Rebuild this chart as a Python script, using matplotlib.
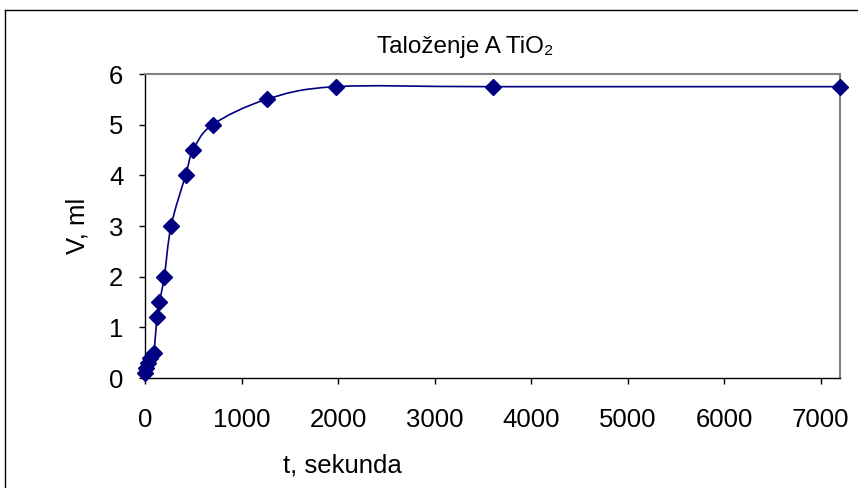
import numpy as np
import matplotlib.pyplot as plt
from matplotlib.path import Path
from matplotlib.patches import PathPatch
from matplotlib.lines import Line2D

plt.rcParams["font.family"] = ["Liberation Sans", "DejaVu Sans"]

t_sec = [5, 15, 30, 50, 90, 125, 150, 200, 270, 420, 500, 700, 1260, 1980, 3600, 7200]
v_ml = [0.1, 0.2, 0.3, 0.4, 0.5, 1.2, 1.5, 2.0, 3.0, 4.0, 4.5, 5.0, 5.5, 5.75, 5.75, 5.75]

x_ticks = [0, 1000, 2000, 3000, 4000, 5000, 6000, 7000]
y_ticks = [0, 1, 2, 3, 4, 5, 6]

navy = "#000080"

fig = plt.figure(figsize=(8.58, 4.88), dpi=100)
ax = fig.add_axes([145 / 858, 110 / 488, 695 / 858, 304 / 488])

# smoothed line like Excel (Catmull-Rom as cubic Bezier segments)
pts = np.column_stack([t_sec, v_ml]).astype(float)
verts = [pts[0]]
codes = [Path.MOVETO]
n = len(pts)
for i in range(n - 1):
    p0 = pts[max(i - 1, 0)]
    p1 = pts[i]
    p2 = pts[i + 1]
    p3 = pts[min(i + 2, n - 1)]
    c1 = p1 + (p2 - p0) / 6
    c2 = p2 - (p3 - p1) / 6
    verts += [c1, c2, p2]
    codes += [Path.CURVE4] * 3
ax.add_patch(PathPatch(Path(verts, codes), facecolor="none", edgecolor=navy, lw=1.2))
ax.plot(t_sec, v_ml, linestyle="none", marker="D", markersize=8, color=navy, clip_on=False, zorder=3)

ax.set_xlim(0, 7200)
ax.set_ylim(0, 6)
ax.set_xticks(x_ticks)
ax.set_yticks(y_ticks)
ax.tick_params(axis="both", direction="out", length=4.5, width=1, labelsize=18.5)
ax.tick_params(axis="x", pad=17)
ax.tick_params(axis="y", pad=11)
for s in ["top", "right"]:
    ax.spines[s].set_color("#808080")
    ax.spines[s].set_linewidth(1.5)
for s in ["left", "bottom"]:
    ax.spines[s].set_color("black")
    ax.spines[s].set_linewidth(1)

ax.set_xlabel("t, sekunda", fontsize=18.5)
ax.set_ylabel("V, ml", fontsize=18.5)
ax.xaxis.set_label_coords((342 - 145) / 695, -(466 - 378) / 304)
ax.yaxis.set_label_coords(-(145 - 78) / 695, 0.5)
ax.xaxis.label.set_va("center")
ax.yaxis.label.set_va("center")

fig.text(465 / 858, 441 / 488, "Taloženje A TiO₂", fontsize=17.5,
         ha="center", va="center")

# chart area border (top and left visible)
fig.add_artist(Line2D([5 / 858, 1], [478 / 488, 478 / 488], color="black", lw=1))
fig.add_artist(Line2D([5 / 858, 5 / 858], [0, 478 / 488], color="black", lw=1))

fig.savefig("out.png", dpi=100)
